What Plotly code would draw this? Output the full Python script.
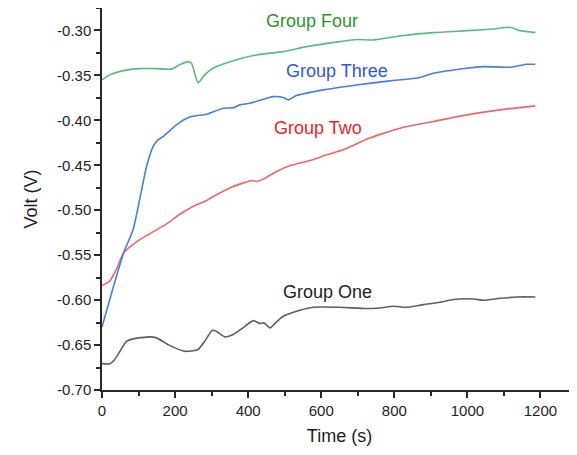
import plotly.graph_objects as go

# Group One (gray)
t_one = [0, 21, 35, 67, 85, 131, 149, 186, 227, 263, 281, 302, 313, 336, 359, 386, 414, 432, 443, 460, 473, 496,
         542, 578, 651, 724, 761, 797, 834, 880, 925, 962, 1017, 1044, 1090, 1136, 1186]
v_one = [-0.6706, -0.6709, -0.666, -0.6458, -0.6431, -0.6409, -0.642, -0.6506, -0.6569, -0.655, -0.6458, -0.6336,
         -0.6346, -0.6409, -0.6383, -0.6309, -0.6228, -0.6261, -0.6253, -0.6309, -0.6261, -0.618,
         -0.6113, -0.608, -0.608, -0.6094, -0.6087, -0.6069, -0.608, -0.605, -0.6024, -0.5994, -0.5987, -0.6002,
         -0.598, -0.5965, -0.5965]

# Group Two (red)
t_two = [0, 21, 39, 59, 103, 131, 176, 213, 249, 286, 313, 359, 386, 409, 423, 441, 478, 514, 569, 615, 660, 697,
         724, 816, 907, 998, 1090, 1186]
v_two = [-0.5839, -0.579, -0.5661, -0.5476, -0.5328, -0.526, -0.5155, -0.5045, -0.4958, -0.4891, -0.4828, -0.4735,
         -0.4698, -0.4669, -0.468, -0.4654, -0.4568, -0.4506, -0.4447, -0.4383, -0.4328, -0.4261,
         -0.4209, -0.4087, -0.4013, -0.3939, -0.3883, -0.3839]

# Group Three (blue)
t_three = [0, 59, 85, 122, 140, 153, 167, 204, 240, 286, 332, 359, 377, 405, 469, 496, 510, 532, 606, 697, 788,
           870, 907, 998, 1044, 1117, 1163, 1186]
v_three = [-0.6298, -0.5476, -0.5217, -0.4513, -0.429, -0.4217, -0.418, -0.405, -0.3964, -0.3931, -0.3865, -0.3861,
           -0.3828, -0.3809, -0.3736, -0.3746, -0.3772, -0.3724, -0.3661, -0.3606, -0.3561,
           -0.3524, -0.3476, -0.342, -0.3402, -0.3409, -0.3376, -0.3376]

# Group Four (green)
t_four = [0, 21, 58, 103, 149, 190, 213, 236, 245, 263, 281, 304, 359, 423, 496, 560, 651, 697, 743, 816, 907,
          998, 1071, 1117, 1144, 1186]
v_four = [-0.355, -0.3494, -0.3447, -0.3424, -0.3424, -0.343, -0.338, -0.3347, -0.3365, -0.358, -0.3494, -0.342,
          -0.3336, -0.3272, -0.3235, -0.318, -0.3124, -0.31, -0.3105, -0.3061, -0.3024,
          -0.3002, -0.2983, -0.2964, -0.3002, -0.3024]

x_ticks = [0, 200, 400, 600, 800, 1000, 1200]
y_ticks = [-0.70, -0.65, -0.60, -0.55, -0.50, -0.45, -0.40, -0.35, -0.30]
y_tick_labels = ["-0.70", "-0.65", "-0.60", "-0.55", "-0.50", "-0.45", "-0.40", "-0.35", "-0.30"]

names = ["Group One", "Group Two", "Group Three", "Group Four"]
label_x = [618, 591, 643, 575]
label_y = [-0.5905, -0.4083, -0.345, -0.2894]

line_colors = ["rgb(95,95,95)", "rgb(245,100,100)", "rgb(70,125,230)", "rgb(85,190,125)"]
text_colors = ["rgb(30,30,30)", "rgb(240,30,30)", "rgb(45,85,240)", "rgb(40,150,40)"]

fig = go.Figure()
for t, v, c, n in zip([t_one, t_two, t_three, t_four], [v_one, v_two, v_three, v_four], line_colors, names):
    fig.add_trace(go.Scatter(x=t, y=v, mode="lines", name=n, line=dict(color=c, width=1.6, shape="spline", smoothing=0.6)))

for n, lx, ly, c in zip(names, label_x, label_y, text_colors):
    fig.add_annotation(x=lx, y=ly, text=n, showarrow=False, font=dict(size=18, color=c, family="Liberation Sans"))

fig.update_layout(
    width=569, height=447,
    margin=dict(l=94, r=0, t=0, b=65, autoexpand=False),
    paper_bgcolor="white", plot_bgcolor="white",
    showlegend=False,
    font=dict(family="Liberation Sans", color="rgb(30,30,30)"),
)
fig.update_xaxes(
    range=[0, 1300], tickvals=x_ticks, ticks="outside", ticklen=6, tickwidth=1.5, tickcolor="rgb(40,40,40)",
    showline=True, linecolor="rgb(40,40,40)", linewidth=1.5, showgrid=False, zeroline=False, automargin=False,
    tickfont=dict(size=15), title=dict(text="Time (s)", font=dict(size=18), standoff=12),
    minor=dict(ticks="outside", dtick=100, tick0=0, ticklen=4, tickwidth=1.5, tickcolor="rgb(40,40,40)", showgrid=False),
)
fig.update_yaxes(
    range=[-0.70, -0.275], tickvals=y_ticks, ticktext=y_tick_labels, ticks="outside", ticklen=6, tickwidth=1.5,
    tickcolor="rgb(40,40,40)", showline=True, linecolor="rgb(40,40,40)", linewidth=1.5, showgrid=False, zeroline=False,
    automargin=False,
    tickfont=dict(size=15), title=dict(text="Volt (V)", font=dict(size=18), standoff=15),
    minor=dict(ticks="outside", dtick=0.025, tick0=-0.7, ticklen=4, tickwidth=1.5, tickcolor="rgb(40,40,40)", showgrid=False),
)

fig.write_html("out.html")
